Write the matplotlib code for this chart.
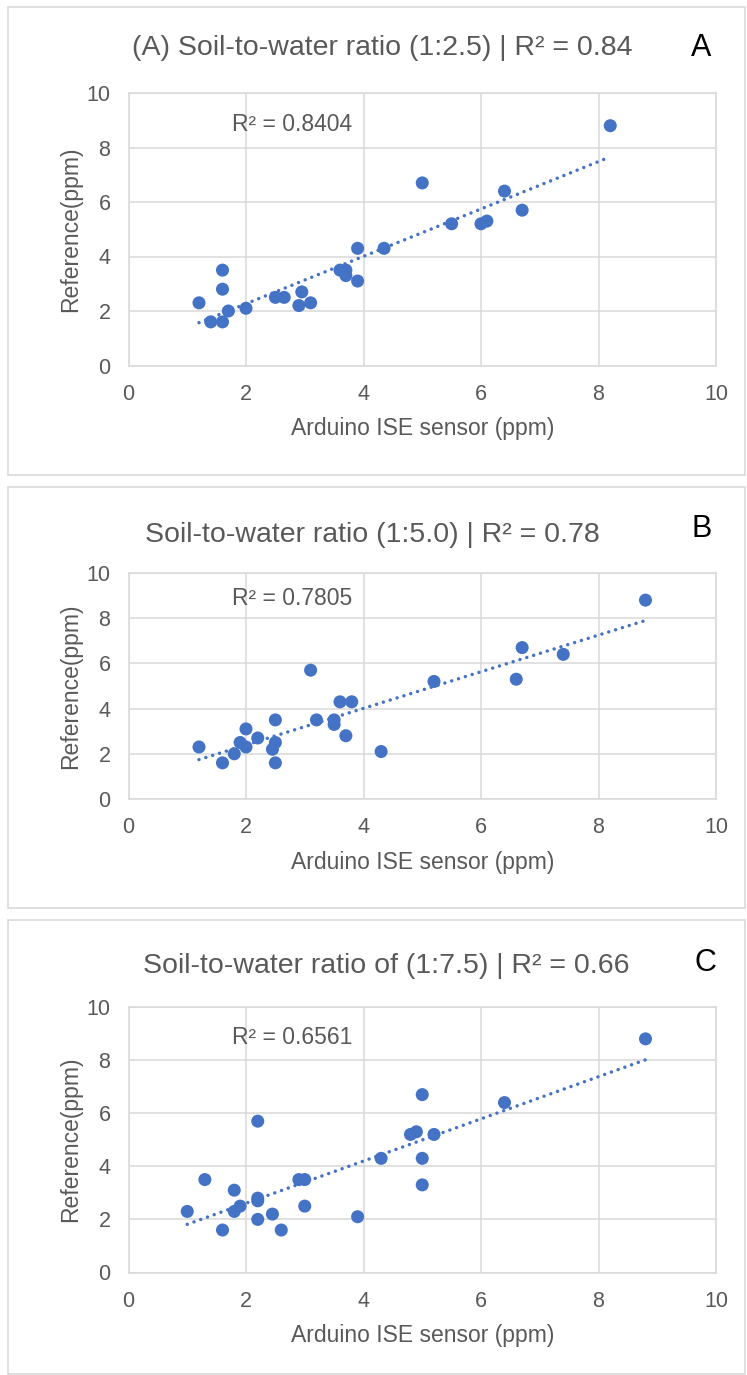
import matplotlib
matplotlib.use('Agg')
import matplotlib.pyplot as plt
import numpy as np
from matplotlib.patches import Rectangle

plt.rcParams['font.family'] = ['Liberation Sans', 'DejaVu Sans']

# ---- data ----
# (A) 1:2.5
x_a = [1.2, 1.6, 1.6, 1.4, 1.6, 1.7, 2.0, 2.5, 2.65, 2.95, 2.9, 3.1, 3.6, 3.7, 3.7,
       3.9, 3.9, 4.35, 5.0, 5.5, 6.0, 6.1, 6.4, 6.7, 8.2]
y_a = [2.3, 3.5, 2.8, 1.6, 1.6, 2.0, 2.1, 2.5, 2.5, 2.7, 2.2, 2.3, 3.5, 3.5, 3.3,
       4.3, 3.1, 4.3, 6.7, 5.2, 5.2, 5.3, 6.4, 5.7, 8.8]

# (B) 1:5.0
x_b = [1.2, 1.6, 1.8, 1.9, 2.0, 2.0, 2.2, 2.5, 2.5, 2.45, 2.5, 3.1, 3.2, 3.5, 3.5,
       3.6, 3.8, 3.7, 4.3, 5.2, 6.7, 6.6, 7.4, 8.8]
y_b = [2.3, 1.6, 2.0, 2.5, 3.1, 2.3, 2.7, 3.5, 2.5, 2.2, 1.6, 5.7, 3.5, 3.5, 3.3,
       4.3, 4.3, 2.8, 2.1, 5.2, 6.7, 5.3, 6.4, 8.8]

# (C) 1:7.5
x_c = [1.0, 1.3, 1.6, 1.8, 1.8, 1.9, 2.2, 2.2, 2.2, 2.2, 2.45, 2.6, 2.9, 3.0, 3.0,
       3.9, 4.3, 4.8, 4.9, 5.0, 5.0, 5.0, 5.2, 6.4, 8.8]
y_c = [2.3, 3.5, 1.6, 3.1, 2.3, 2.5, 5.7, 2.8, 2.7, 2.0, 2.2, 1.6, 3.5, 3.5, 2.5,
       2.1, 4.3, 5.2, 5.3, 6.7, 4.3, 3.3, 5.2, 6.4, 8.8]

titles = ['(A) Soil-to-water ratio (1:2.5) | R² = 0.84',
          'Soil-to-water ratio (1:5.0) | R² = 0.78',
          'Soil-to-water ratio of (1:7.5) | R² = 0.66']
r2_labels = ['R² = 0.8404', 'R² = 0.7805', 'R² = 0.6561']
letters = ['A', 'B', 'C']
ticks = [0, 2, 4, 6, 8, 10]

BLUE = '#4472C4'
GRID = '#D9D9D9'
GREY = '#595959'

W, H = 747, 1375
fig = plt.figure(figsize=(W / 100, H / 100), dpi=100)

# pixel boxes: left, top, right, bottom
frames = [(8, 7, 745, 475), (8, 487, 745, 908), (8, 920, 745, 1374)]
plots = [(128.5, 93, 716, 365.5), (128.5, 573, 716, 799), (128.5, 1007, 716, 1272.5)]
title_pos = [(382, 48), (372, 535), (386, 966)]
letter_pos = [(701, 48), (702, 529), (705, 963)]

series = [(x_a, y_a), (x_b, y_b), (x_c, y_c)]

for i in range(3):
    l, t, r, b = frames[i]
    fig.patches.append(Rectangle((l / W, 1 - b / H), (r - l) / W, (b - t) / H,
                                 transform=fig.transFigure, fill=False,
                                 edgecolor=GRID, lw=1.2))

    l, t, r, b = plots[i]
    ax = fig.add_axes([l / W, 1 - b / H, (r - l) / W, (b - t) / H])
    x, y = series[i]

    ax.scatter(x, y, s=88, color=BLUE, edgecolors='none', zorder=3)

    # linear trend line
    k, c = np.polyfit(x, y, 1)
    xs = np.array([min(x), max(x)])
    ax.plot(xs, k * xs + c, color=BLUE, lw=2.5, linestyle=(0, (0.01, 2.05)),
            dash_capstyle='round', zorder=2)

    ax.set_xlim(0, 10)
    ax.set_ylim(0, 10)
    ax.set_xticks(ticks)
    ax.set_yticks(ticks)
    ax.grid(True, color=GRID, lw=1.1)
    ax.set_axisbelow(True)
    for s in ax.spines.values():
        s.set_color(GRID)
        s.set_linewidth(1.1)
    ax.tick_params(length=0, pad=13, labelsize=15.5, colors=GREY)

    ax.set_xlabel('Arduino ISE sensor (ppm)', fontsize=16.5, color=GREY, labelpad=9)
    ax.set_ylabel('Reference(ppm)', fontsize=16.5, color=GREY, labelpad=3)

    ax.text(0.278, 0.885, r2_labels[i], transform=ax.transAxes, ha='center',
            va='center', fontsize=16.5, color=GREY)

    tx, ty = title_pos[i]
    fig.text(tx / W, 1 - ty / H, titles[i], ha='center', va='center',
             fontsize=20.5, color=GREY)
    lx, ly = letter_pos[i]
    fig.text(lx / W, 1 - ly / H, letters[i], ha='center', va='center',
             fontsize=22, color='black')

fig.savefig('out.png', dpi=100, facecolor='white')
